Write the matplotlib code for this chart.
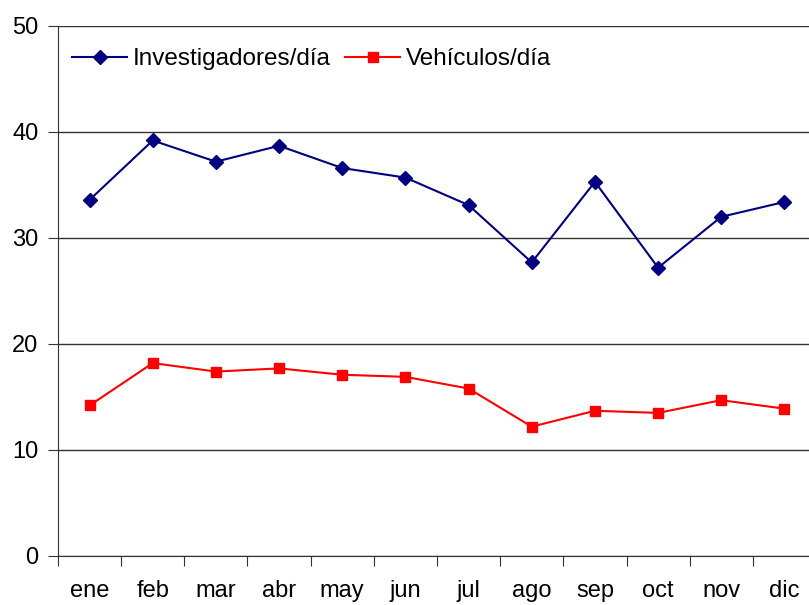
import numpy as np
import matplotlib
matplotlib.use('Agg')
import matplotlib.pyplot as plt

plt.rcParams['font.family'] = ['Liberation Sans', 'DejaVu Sans']

meses = ['ene', 'feb', 'mar', 'abr', 'may', 'jun', 'jul', 'ago', 'sep', 'oct', 'nov', 'dic']
investigadores = [33.6, 39.2, 37.2, 38.7, 36.6, 35.7, 33.1, 27.7, 35.3, 27.2, 32.0, 33.4]
vehiculos = [14.2, 18.2, 17.4, 17.7, 17.1, 16.9, 15.8, 12.2, 13.7, 13.5, 14.7, 13.9]

fig = plt.figure(figsize=(8.09, 6.05), dpi=100)
ax = fig.add_axes([58/809, 49/605, (816-58)/809, (556-26)/605])

x = np.arange(len(meses))
ax.plot(x, investigadores, color='#000080', marker='D', markersize=7.5, lw=1.5,
        label='Investigadores/día', clip_on=False)
ax.plot(x, vehiculos, color='#ff0000', marker='s', markersize=7, lw=1.5,
        label='Vehículos/día', clip_on=False)

ax.set_xlim(-0.5, 11.5)
ax.set_ylim(0, 50)
ax.set_yticks([0, 10, 20, 30, 40, 50])
ax.yaxis.grid(True, color='#333333', lw=1)
ax.set_axisbelow(True)

ax.set_xticks(np.arange(-0.5, 12, 1))
ax.set_xticklabels([])
ax.set_xticks(x, minor=True)
ax.set_xticklabels(meses, minor=True)
ax.tick_params(axis='x', which='minor', length=0, pad=17, labelsize=17)
ax.tick_params(axis='x', which='major', length=7, direction='out', color='#333333')
ax.tick_params(axis='y', length=7, direction='out', labelsize=17, pad=7, color='#333333')

for s in ['top', 'right']:
    ax.spines[s].set_visible(False)
for s in ['left', 'bottom']:
    ax.spines[s].set_color('#333333')

ax.legend(loc='upper left', ncol=2, frameon=False, fontsize=17.5,
          bbox_to_anchor=(0.006, 0.976), borderaxespad=0, handlelength=2.25,
          columnspacing=0.6, handletextpad=0.25)

fig.savefig('out.png', dpi=100)
